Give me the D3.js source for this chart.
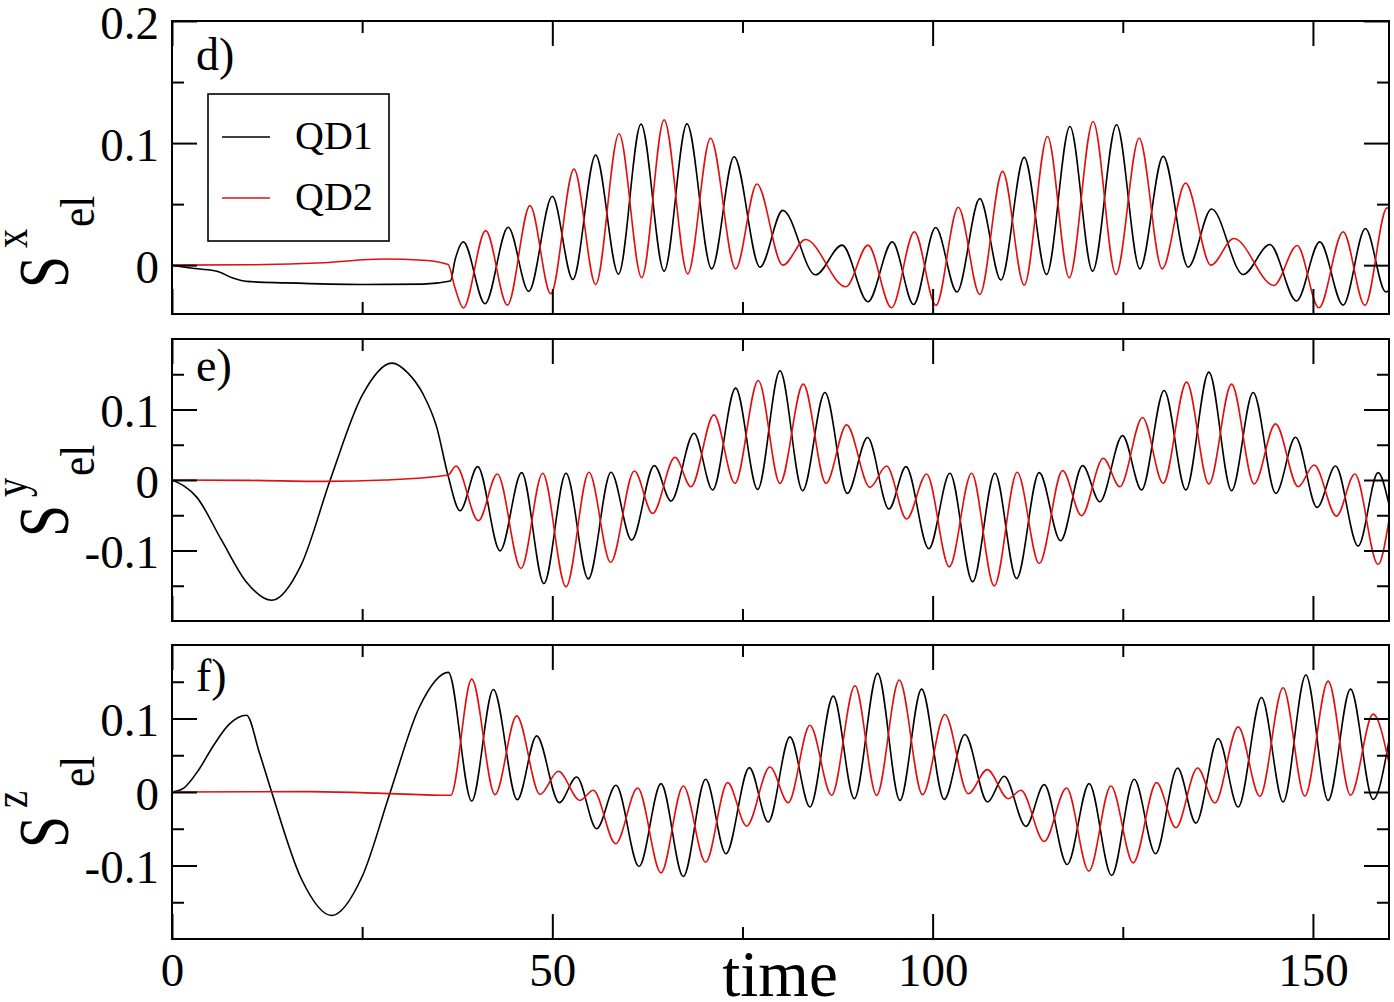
<!DOCTYPE html>
<html>
<head>
<meta charset="utf-8">
<script src="https://cdn.jsdelivr.net/npm/d3@7"></script>
<style>
  body { margin: 0; background: #fff; }
  text { font-family: "Liberation Serif", "Times New Roman", serif; fill: #000; }
</style>
</head>
<body>
<div id="chart"></div>
<script>
// values: [time, S] at the turning points of each curve
const sx_qd1 = [[0,0],[3.3,-0.003],[5.9,-0.005],[8,-0.0105],[9.8,-0.0133],[15,-0.0145],[25,-0.0158],[33,-0.0155],[36.6,-0.013],[37.2,0.004],
  [38.3,0.0191],[41.15,-0.0316],[44.2,0.0311],[46.9,-0.0215],[50.0,0.0564],[52.7,-0.0117],[55.7,0.0902],[58.7,-0.0073],[61.66,0.1155],[64.7,-0.0049],
  [67.7,0.1157],[70.95,-0.003],[73.9,0.0888],[77.3,-0.0016],[80.3,0.0449],[84.6,-0.0079],[88.1,0.0164],[91.5,-0.03],[94.7,0.0191],[97.5,-0.0322],
  [100.4,0.0308],[103.2,-0.022],[106.2,0.0545],[108.98,-0.0122],[112.04,0.0883],[114.98,-0.0076],[118.05,0.1136],[121.03,-0.0049],[124.18,0.115],[127.25,-0.003],
  [130.31,0.0891],[133.6,-0.0016],[136.67,0.046],[140.83,-0.0076],[144.33,0.0169],[147.84,-0.0294],[150.9,0.0191],[153.97,-0.0327],[156.9,0.03],[159.58,-0.022],[160,-0.021]];
const sx_qd2 = [[0,0],[10,0.0003],[20,0.002],[27.8,0.005],[33,0.004],[36.3,0.0006],[37.2,-0.0185],
  [38.3,-0.0351],[41.24,0.0283],[44.1,-0.0327],[47.07,0.0488],[49.8,-0.0234],[52.85,0.0787],[55.7,-0.0158],[58.77,0.1076],[61.75,-0.0103],[64.7,0.119],
  [67.8,-0.0071],[70.8,0.104],[74.1,-0.003],[76.9,0.0665],[80.3,0.0],[83.3,0.021],[88.6,-0.0177],[91.5,0.0164],[94.6,-0.0349],[97.6,0.0273],
  [100.43,-0.0329],[103.37,0.0474],[106.2,-0.0239],[109.2,0.0768],[112.04,-0.0163],[115.1,0.1054],[117.96,-0.0103],[121.1,0.1177],[124.1,-0.0076],[127.15,0.104],
  [130.18,-0.003],[133.25,0.0673],[136.58,0.0],[139.6,0.0218],[144.86,-0.0166],[147.93,0.0161],[150.78,-0.0349],[153.97,0.0273],[156.83,-0.0329],[159.75,0.0469],[160,0.0465]];

const sy_qd1 = [[0,0],[3.3,-0.025],[6.5,-0.085],[9.8,-0.145],[13.1,-0.1706],[17,-0.12],[20.8,0],[25,0.12],[28.9,0.1658],[31,0.152],[33,0.122],[34.8,0.075],[36.3,0.006],
  [37.87,-0.0436],[40.19,0.019],[43.13,-0.1005],[45.97,0.0104],[48.9,-0.1469],[51.8,0.0095],[54.73,-0.1403],[57.72,0.0109],[60.43,-0.0853],[63.41,0.0204],
  [65.6,-0.0299],[68.63,0.0663],[71.08,-0.0142],[74.1,0.1303],[77.0,-0.0133],[79.93,0.1549],[82.91,-0.0152],[85.84,0.1241],[88.78,-0.019],[91.45,0.0602],
  [94.26,-0.0412],[96.5,0.019],[99.5,-0.0975],[102.27,0.0095],[105.26,-0.1445],[108.19,0.0095],[111.04,-0.1398],[114.01,0.0104],[116.82,-0.0862],[119.72,0.0204],
  [121.99,-0.0308],[124.97,0.063],[127.47,-0.0142],[130.44,0.127],[133.29,-0.0142],[136.32,0.153],[139.3,-0.0152],[142.14,0.1241],[145.12,-0.019],[147.71,0.0606],
  [150.55,-0.0389],[152.97,0.0199],[155.94,-0.0938],[158.57,0.0104],[160,-0.035]];
const sy_qd2 = [[0,0],[10,-0.0005],[20,-0.002],[28,0.0],[36.3,0.007],
  [37.34,0.0199],[40.28,-0.0578],[42.77,0.0085],[45.89,-0.1256],[48.73,0.0095],[51.8,-0.1516],[54.82,0.0109],[57.67,-0.117],[60.78,0.0128],[63.19,-0.0474],
  [66.13,0.0322],[68.23,-0.0095],[71.25,0.0924],[74.01,-0.0047],[77.08,0.1412],[79.93,-0.0047],[82.99,0.136],[85.98,-0.0047],[88.69,0.0782],[91.76,-0.0104],
  [93.95,0.0199],[96.58,-0.0554],[99.21,0.0085],[102.19,-0.1232],[105.12,0.0095],[108.1,-0.1502],[111.12,0.0109],[114.01,-0.1185],[117.09,0.0133],[119.58,-0.0507],
  [122.43,0.0308],[124.62,-0.0095],[127.6,0.0886],[130.31,-0.0047],[133.39,0.1388],[136.32,-0.0057],[139.3,0.136],[142.27,-0.0057],[145.08,0.0796],[148.06,-0.0095],
  [150.16,0.0213],[153.1,-0.0512],[155.51,0.0085],[158.57,-0.1199],[160,-0.057]];

const sz_qd1 = [[0,0],[1.5,0.005],[3.5,0.03],[5.5,0.064],[7.5,0.092],[9.8,0.1045],[11.5,0.053],[13.1,0],[17,-0.118],[21,-0.168],[25,-0.115],[28.7,0],[32.5,0.115],[36.33,0.1627],
  [39.4,-0.0123],[42.25,0.1395],[45.4,-0.0105],[47.94,0.0764],[50.92,-0.0145],[53.2,0.0205],[55.83,-0.05],[58.37,0.0091],[61.4,-0.1014],[64.29,0.0114],
  [67.22,-0.115],[70.16,0.0173],[72.83,-0.0841],[75.9,0.0332],[78.39,-0.0409],[81.24,0.075],[83.87,-0.0205],[86.94,0.1305],[89.7,-0.0091],[92.77,0.1614],
  [95.7,-0.0114],[98.55,0.14],[101.52,-0.01],[104.24,0.0782],[107.22,-0.0136],[109.41,0.0214],[112.26,-0.0468],[114.67,0.01],[117.69,-0.0986],[120.58,0.0114],
  [123.53,-0.1136],[126.5,0.0173],[129.31,-0.0841],[132.2,0.0327],[134.61,-0.0423],[137.54,0.0727],[140.17,-0.0205],[143.24,0.1286],[146.08,-0.0136],[149.07,0.1591],
  [152.0,-0.0114],[154.94,0.14],[157.91,-0.01],[160,0.07]];
const sz_qd2 = [[0,0],[18,0.0005],[27,-0.0015],[36.64,-0.0045],
  [39.4,0.1536],[42.47,-0.0036],[45.32,0.1036],[48.38,-0.0032],[50.79,0.0282],[53.64,-0.0114],[55.39,0.0023],[58.33,-0.0705],[61.22,0.0055],[64.29,-0.11],
  [67.22,0.0082],[70.16,-0.0955],[73.05,0.0127],[75.55,-0.0464],[78.61,0.0341],[81.02,-0.0145],[83.87,0.0909],[86.72,-0.0045],[89.79,0.1445],[92.64,-0.0045],
  [95.61,0.1523],[98.68,-0.0036],[101.61,0.1055],[104.68,-0.0023],[107.18,0.0305],[109.94,-0.0091],[111.61,0.0023],[114.67,-0.0673],[117.61,0.0055],[120.54,-0.1077],
  [123.44,0.0082],[126.37,-0.0964],[129.44,0.0127],[131.98,-0.0486],[134.83,0.0327],[137.11,-0.015],[140.17,0.0886],[143.02,-0.0059],[146.08,0.1418],[148.93,-0.0055],
  [152.0,0.1509],[154.94,-0.0045],[157.91,0.1059],[160,0.039]];

const seriesNames = ["QD1", "QD2"];
const xMajor = [0, 50, 100, 150];
const xMinor = [25, 75, 125];
const yMajorD = [0, 0.1, 0.2];
const yMinorD = [0.05, 0.15];
const yMajorEF = [-0.1, 0, 0.1];
const yMinorEF = [-0.15, -0.05, 0.05, 0.15];

const width = 1394, height = 1002;
const left = 172, right = 1389;
const colors = ["#000000", "#e01010"];

const panels = [
  {label: "d)", comp: "x", top: 21, bottom: 314, domain: [-0.04, 0.2], data: [sx_qd1, sx_qd2], major: yMajorD, minor: yMinorD, titleY: 288, labelY: 70, legend: true},
  {label: "e)", comp: "y", top: 339, bottom: 621, domain: [-0.2, 0.2], data: [sy_qd1, sy_qd2], major: yMajorEF, minor: yMinorEF, titleY: 537, labelY: 381},
  {label: "f)", comp: "z", top: 645, bottom: 939, domain: [-0.2, 0.2], data: [sz_qd1, sz_qd2], major: yMajorEF, minor: yMinorEF, titleY: 848, labelY: 691, xLabels: true}
];

const svg = d3.select("#chart").append("svg")
  .attr("width", width)
  .attr("height", height);

const x = d3.scaleLinear().domain([0, 160]).range([left, right]);
const fmt = d => d === 0 ? "0" : String(d);

panels.forEach((p, pi) => {
  const y = d3.scaleLinear().domain(p.domain).range([p.bottom, p.top]);
  const g = svg.append("g");

  g.append("clipPath").attr("id", "clip" + pi)
    .append("rect")
      .attr("x", left).attr("y", p.top)
      .attr("width", right - left).attr("height", p.bottom - p.top);

  const line = d3.line()
    .x(d => x(d[0]))
    .y(d => y(d[1]))
    .curve(d3.curveMonotoneX);

  // black first, red drawn over it
  p.data.forEach((series, si) => {
    g.append("path")
      .datum(series)
      .attr("clip-path", "url(#clip" + pi + ")")
      .attr("fill", "none")
      .attr("stroke", colors[si])
      .attr("stroke-width", 1.6)
      .attr("d", line);
  });

  // ticks on all four sides, pointing inward
  const addAxis = (axis, tx, ty) => {
    const a = g.append("g").attr("transform", `translate(${tx},${ty})`).call(axis);
    a.select(".domain").remove();
    a.selectAll("line").attr("stroke", "#000").attr("stroke-width", 2);
    return a;
  };

  const yl = addAxis(d3.axisLeft(y).tickValues(p.major).tickSize(-25).tickPadding(13).tickFormat(fmt), left, 0);
  yl.selectAll("text").attr("font-size", 47).attr("dy", "0.37em").attr("font-family", null);
  addAxis(d3.axisLeft(y).tickValues(p.minor).tickSize(-12).tickFormat(""), left, 0);
  addAxis(d3.axisRight(y).tickValues(p.major).tickSize(-25).tickFormat(""), right, 0);
  addAxis(d3.axisRight(y).tickValues(p.minor).tickSize(-12).tickFormat(""), right, 0);

  addAxis(d3.axisTop(x).tickValues(xMajor).tickSize(-25).tickFormat(""), 0, p.top);
  addAxis(d3.axisTop(x).tickValues(xMinor).tickSize(-12).tickFormat(""), 0, p.top);
  const xb = addAxis(d3.axisBottom(x).tickValues(xMajor).tickSize(-25).tickPadding(14)
    .tickFormat(p.xLabels ? fmt : ""), 0, p.bottom);
  xb.selectAll("text").attr("font-size", 47).attr("font-family", null);
  addAxis(d3.axisBottom(x).tickValues(xMinor).tickSize(-12).tickFormat(""), 0, p.bottom);

  g.append("rect")
    .attr("x", left).attr("y", p.top)
    .attr("width", right - left).attr("height", p.bottom - p.top)
    .attr("fill", "none").attr("stroke", "#000").attr("stroke-width", 2);

  g.append("text")
    .attr("x", 196).attr("y", p.labelY)
    .attr("font-size", 46)
    .text(p.label);

  // S^comp_el, rotated
  const t = svg.append("g").attr("transform", `translate(68,${p.titleY}) rotate(-90)`);
  t.append("text").attr("transform", "scale(0.8,1)").attr("font-size", 72).text("S");
  t.append("text").attr("transform", "translate(40,-41) scale(0.8,1)").attr("font-size", 48).text(p.comp);
  t.append("text").attr("transform", "translate(61,26) scale(0.9,1)").attr("font-size", 48).text("el");

  if (p.legend) {
    const lg = g.append("g");
    lg.append("rect")
      .attr("x", 208).attr("y", 94).attr("width", 181).attr("height", 147)
      .attr("fill", "#fff").attr("stroke", "#000").attr("stroke-width", 1.6);
    seriesNames.forEach((name, i) => {
      lg.append("line")
        .attr("x1", 222).attr("x2", 270)
        .attr("y1", 137 + i * 61).attr("y2", 137 + i * 61)
        .attr("stroke", colors[i]).attr("stroke-width", 1.6);
      lg.append("text")
        .attr("x", 295).attr("y", 148.5 + i * 61)
        .attr("font-size", 40)
        .text(name);
    });
  }
});

svg.append("text")
  .attr("x", 780).attr("y", 996)
  .attr("text-anchor", "middle")
  .attr("font-size", 65)
  .text("time");
</script>
</body>
</html>
